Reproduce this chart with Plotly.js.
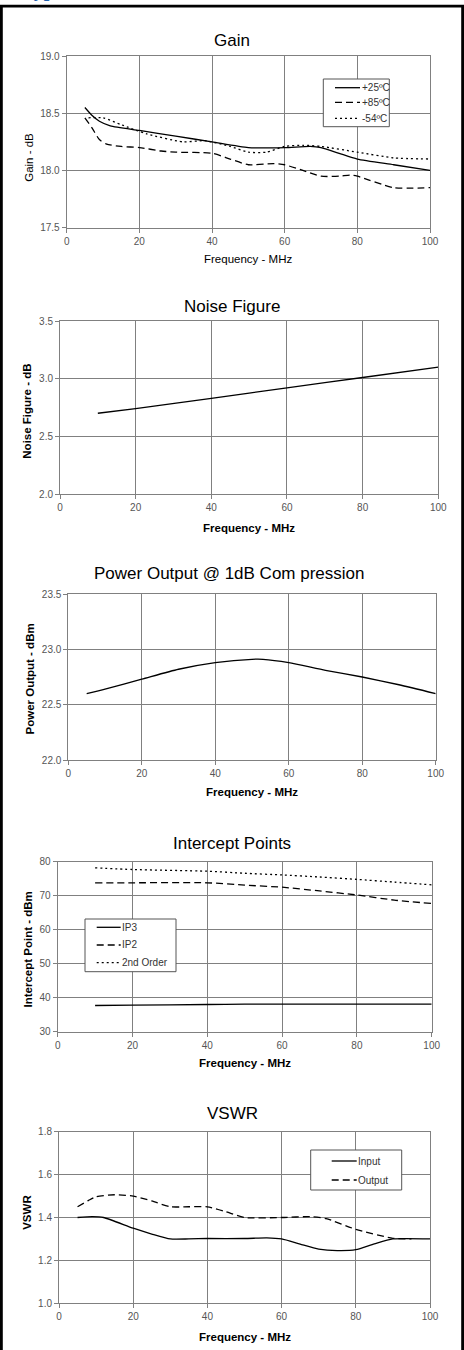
<!DOCTYPE html>
<html>
<head>
<meta charset="utf-8">
<script src="https://cdn.plot.ly/plotly-3.0.1.min.js"></script>
<style>
  html, body { margin: 0; padding: 0; background: #fff; }
  #chart { width: 464px; height: 1350px; }
</style>
</head>
<body>
<div id="chart"></div>
<script>
// ---------------- DATA ----------------
const headerText = "Typical Performance Curves";

// Gain (dB) vs Frequency (MHz)
const gainTitle = "Gain";
const gain25Freq = [5, 7, 9, 12, 20, 30, 40, 50, 60, 67, 70, 75, 80, 90, 100];
const gain25 = [18.55, 18.48, 18.43, 18.39, 18.35, 18.30, 18.25, 18.20, 18.20, 18.21, 18.20, 18.15, 18.10, 18.05, 18.00];
const gain85Freq = [5, 7, 9, 11, 15, 20, 26, 30, 40, 45, 50, 57, 60, 65, 70, 75, 78, 80, 90, 100];
const gain85 = [18.46, 18.37, 18.27, 18.23, 18.21, 18.20, 18.17, 18.16, 18.15, 18.10, 18.05, 18.06, 18.05, 18.00, 17.95, 17.95, 17.96, 17.95, 17.85, 17.85];
const gainM54Freq = [6, 10, 15, 22, 32, 38, 45, 50, 55, 60, 65, 70, 80, 90, 100];
const gainM54 = [18.46, 18.46, 18.40, 18.32, 18.25, 18.26, 18.21, 18.16, 18.16, 18.21, 18.22, 18.21, 18.16, 18.11, 18.10];
const gainNames = ["+25ºC", "+85ºC", "-54ºC"];

// Noise Figure (dB)
const nfTitle = "Noise Figure";
const nfFreq = [10, 20, 40, 60, 80, 100];
const nf = [2.70, 2.74, 2.83, 2.92, 3.01, 3.10];

// Power Output @ 1dB Compression (dBm)
const p1Title = "Power Output @ 1dB Com pression";
const p1Freq = [5, 10, 20, 30, 40, 50, 53, 60, 70, 80, 90, 100];
const p1 = [22.60, 22.64, 22.73, 22.82, 22.88, 22.91, 22.91, 22.88, 22.81, 22.75, 22.68, 22.60];

// Intercept Points (dBm)
const ipTitle = "Intercept Points";
const ipFreq = [10, 20, 40, 50, 60, 70, 80, 90, 100];
const ip3 = [37.7, 37.8, 38.0, 38.1, 38.1, 38.1, 38.1, 38.1, 38.1];
const ip2 = [73.8, 73.8, 73.8, 73.1, 72.5, 71.4, 70.2, 68.7, 67.7];
const ip2nd = [78.2, 77.7, 77.2, 76.6, 76.1, 75.5, 74.8, 74.0, 73.2];
const ipNames = ["IP3", "IP2", "2nd Order"];

// VSWR
const vswrTitle = "VSWR";
const vswrInFreq = [5, 9, 12, 20, 25, 30, 35, 40, 50, 56, 60, 65, 70, 75, 80, 85, 90, 100];
const vswrIn = [1.40, 1.404, 1.40, 1.35, 1.323, 1.30, 1.30, 1.302, 1.302, 1.305, 1.30, 1.276, 1.253, 1.246, 1.25, 1.277, 1.30, 1.30];
const vswrOutFreq = [5, 8, 10, 15, 20, 25, 30, 35, 40, 45, 50, 60, 68, 72, 80, 90, 95];
const vswrOut = [1.45, 1.48, 1.497, 1.506, 1.50, 1.477, 1.45, 1.45, 1.45, 1.427, 1.40, 1.40, 1.404, 1.395, 1.345, 1.303, 1.30];
const vswrNames = ["Input", "Output"];

// Axis labels
const xLabel = "Frequency - MHz";
const yLabels = ["Gain - dB", "Noise Figure - dB", "Power Output - dBm", "Intercept Point - dBm", "VSWR"];

// ---------------- LAYOUT HELPERS ----------------
const W = 464, H = 1350;
const px = v => v / W;
const py = v => 1 - v / H;
const FONT = "Liberation Sans, Arial, sans-serif";
const GRID = "#808080";

// pixel boxes of each plot: [left, right, top, bottom]
const boxes = [
  [66.7, 430, 56, 227.7],
  [60, 438.3, 321, 494],
  [68.3, 435.7, 594, 760],
  [57.7, 431.7, 861.7, 1031.7],
  [59, 430, 1131.7, 1303.3]
];
const yRanges = [[17.5, 19], [2, 3.5], [22, 23.5], [30, 80], [1, 1.8]];
const yDticks = [0.5, 0.5, 0.5, 10, 0.2];
const yFormats = [".1f", ".1f", ".1f", "d", ".1f"];
const titleX = [232, 231.7, 229.5, 232, 232];
const titleY = [40.7, 306, 574, 843, 1113];
const xTitleY = [259, 527.7, 791.7, 1063, 1336.7];
const yTitleX = [28.3, 26.7, 29.5, 27.5, 26.3];
const yTitleY = [157.5, 411, 679, 950, 1212.5];
const titles = [gainTitle, nfTitle, p1Title, ipTitle, vswrTitle];

const layout = {
  width: W, height: H,
  margin: {l: 0, r: 0, t: 0, b: 0, autoexpand: false},
  paper_bgcolor: "#fff", plot_bgcolor: "#fff",
  font: {family: FONT, color: "#000"},
  showlegend: false,
  annotations: [],
  shapes: []
};

boxes.forEach((b, i) => {
  const n = i === 0 ? "" : String(i + 1);
  layout["xaxis" + n] = {
    domain: [px(b[0]), px(b[1])], anchor: "y" + n,
    range: [0, 100], dtick: 20, tick0: 0,
    showgrid: true, gridcolor: GRID, gridwidth: 1, zeroline: false,
    showline: true, mirror: true, linecolor: GRID, linewidth: 1,
    ticks: "outside", ticklen: 4, tickcolor: GRID,
    tickfont: {family: FONT, size: 10, color: "#555"}, fixedrange: true
  };
  layout["yaxis" + n] = {
    domain: [py(b[3]), py(b[2])], anchor: "x" + n,
    range: yRanges[i], dtick: yDticks[i], tick0: yRanges[i][0], tickformat: yFormats[i],
    showgrid: true, gridcolor: GRID, gridwidth: 1, zeroline: false,
    showline: true, mirror: true, linecolor: GRID, linewidth: 1,
    ticks: "outside", ticklen: 4, tickcolor: GRID,
    tickfont: {family: FONT, size: 10, color: "#555"}, fixedrange: true
  };
  const bold = i !== 0;
  layout.annotations.push({
    text: titles[i], xref: "paper", yref: "paper",
    x: px(titleX[i]), y: py(titleY[i]), xanchor: "center", yanchor: "middle",
    showarrow: false, font: {family: FONT, size: 17, color: "#000"}
  });
  layout.annotations.push({
    text: bold ? "<b>" + xLabel + "</b>" : xLabel, xref: "paper", yref: "paper",
    x: px((b[0] + b[1]) / 2), y: py(xTitleY[i]), xanchor: "center", yanchor: "middle",
    showarrow: false, font: {family: FONT, size: 11.5, color: "#000"}
  });
  layout.annotations.push({
    text: bold ? "<b>" + yLabels[i] + "</b>" : yLabels[i], xref: "paper", yref: "paper",
    x: px(yTitleX[i]), y: py(yTitleY[i]), xanchor: "center", yanchor: "middle", textangle: -90,
    showarrow: false, font: {family: FONT, size: 11.5, color: "#000"}
  });
});

// header (mostly cut off at top, as in the reference)
layout.annotations.push({
  text: "<b>" + headerText + "</b>", xref: "paper", yref: "paper",
  x: px(20), y: py(3.5), xanchor: "left", yanchor: "bottom",
  showarrow: false, font: {family: "Liberation Serif, Times New Roman, serif", size: 20, color: "#1F5FAF"}
});

// outer frame
layout.shapes.push({
  type: "rect", xref: "paper", yref: "paper",
  x0: px(1.4), x1: px(462.6), y0: py(1360), y1: py(6.2),
  line: {color: "#000", width: 2.8}, fillcolor: "rgba(0,0,0,0)", layer: "above"
});

const SOLID = "solid", DASH = "7px,4px", DOT = "2px,3px";

// hand-built legend boxes: box [l, t, r, b], entry rows, line start/end, names, dashes
function addLegend(box, rowsY, lx0, lx1, names, dashes) {
  layout.shapes.push({
    type: "rect", xref: "paper", yref: "paper",
    x0: px(box[0]), x1: px(box[2]), y0: py(box[3]), y1: py(box[1]),
    line: {color: "#555", width: 1}, fillcolor: "#fff", layer: "above"
  });
  names.forEach((nm, k) => {
    layout.shapes.push({
      type: "line", xref: "paper", yref: "paper",
      x0: px(lx0), x1: px(lx1), y0: py(rowsY[k]), y1: py(rowsY[k]),
      line: {color: "#000", width: 1.3, dash: dashes[k]}, layer: "above"
    });
    layout.annotations.push({
      text: nm, xref: "paper", yref: "paper",
      x: px(lx1 + 0.5), y: py(rowsY[k]), xanchor: "left", yanchor: "middle",
      showarrow: false, borderpad: 0,
      font: {family: FONT, size: 10, color: "#333"}
    });
  });
}
addLegend([323.3, 79, 389.3, 126.7], [87.7, 102.3, 118.3], 335, 360, gainNames, [SOLID, DASH, DOT]);
addLegend([85, 919, 176, 971.7], [927.3, 945, 962.7], 96.7, 120.7, ipNames, [SOLID, DASH, DOT]);
addLegend([310.7, 1150, 401.7, 1190], [1161, 1180], 331.7, 356.7, vswrNames, [SOLID, DASH]);

const line = (x, y, xa, ya, name, dash) => ({
  x: x, y: y, xaxis: xa, yaxis: ya, name: name, type: "scatter", mode: "lines",
  line: {color: "#000", width: 1.3, dash: dash, shape: "spline", smoothing: 0.6},
  hoverinfo: "skip"
});

const data = [
  line(gain25Freq, gain25, "x", "y", gainNames[0], SOLID),
  line(gain85Freq, gain85, "x", "y", gainNames[1], DASH),
  line(gainM54Freq, gainM54, "x", "y", gainNames[2], DOT),
  line(nfFreq, nf, "x2", "y2", "NF", SOLID),
  line(p1Freq, p1, "x3", "y3", "P1dB", SOLID),
  line(ipFreq, ip3, "x4", "y4", ipNames[0], SOLID),
  line(ipFreq, ip2, "x4", "y4", ipNames[1], DASH),
  line(ipFreq, ip2nd, "x4", "y4", ipNames[2], DOT),
  line(vswrInFreq, vswrIn, "x5", "y5", vswrNames[0], SOLID),
  line(vswrOutFreq, vswrOut, "x5", "y5", vswrNames[1], DASH)
];

Plotly.newPlot("chart", data, layout, {staticPlot: true, displayModeBar: false});
</script>
</body>
</html>
